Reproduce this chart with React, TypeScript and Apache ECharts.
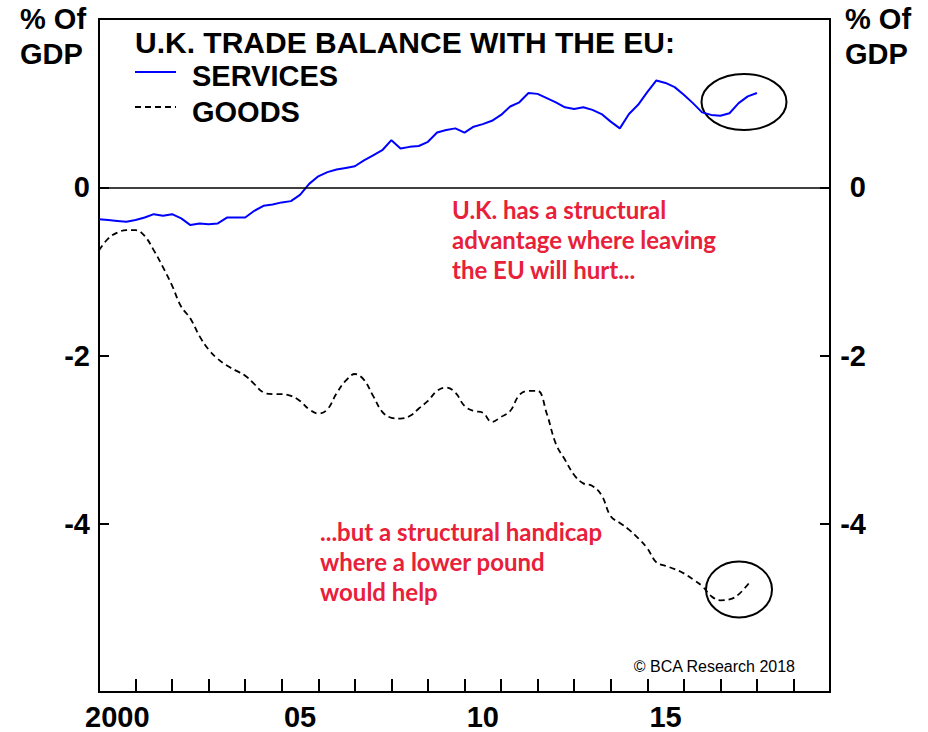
import React, { useEffect, useRef } from "react";
import * as echarts from "echarts";

const yearCategories = [
  "2000", "2001", "2002", "2003", "2004", "2005", "2006", "2007", "2008", "2009",
  "2010", "2011", "2012", "2013", "2014", "2015", "2016", "2017", "2018", "2019",
];

const yLabelValues = [0, -2, -4];

const servicesSeries: [number, number][] = [
  [2000.0, -0.38], [2000.25, -0.39], [2000.5, -0.4], [2000.75, -0.41],
  [2001.0, -0.39], [2001.25, -0.36], [2001.5, -0.32], [2001.75, -0.34],
  [2002.0, -0.32], [2002.25, -0.37], [2002.5, -0.45], [2002.75, -0.43],
  [2003.0, -0.44], [2003.25, -0.43], [2003.5, -0.36], [2003.75, -0.36],
  [2004.0, -0.36], [2004.25, -0.28], [2004.5, -0.22], [2004.75, -0.205],
  [2005.0, -0.18], [2005.25, -0.165], [2005.5, -0.09], [2005.75, 0.04],
  [2006.0, 0.13], [2006.25, 0.18], [2006.5, 0.21], [2006.75, 0.23],
  [2007.0, 0.25], [2007.25, 0.32], [2007.5, 0.38], [2007.75, 0.44],
  [2008.0, 0.56], [2008.25, 0.46], [2008.5, 0.48], [2008.75, 0.49],
  [2009.0, 0.54], [2009.25, 0.65], [2009.5, 0.68], [2009.75, 0.7],
  [2010.0, 0.65], [2010.25, 0.72], [2010.5, 0.75], [2010.75, 0.79],
  [2011.0, 0.86], [2011.25, 0.96], [2011.5, 1.01], [2011.75, 1.12],
  [2012.0, 1.11], [2012.25, 1.06], [2012.5, 1.01], [2012.75, 0.95],
  [2013.0, 0.93], [2013.25, 0.95], [2013.5, 0.92], [2013.75, 0.87],
  [2014.0, 0.78], [2014.25, 0.7], [2014.5, 0.87], [2014.75, 0.98],
  [2015.0, 1.13], [2015.25, 1.27], [2015.5, 1.24], [2015.75, 1.19],
  [2016.0, 1.1], [2016.25, 1.0], [2016.5, 0.89], [2016.75, 0.86],
  [2017.0, 0.85], [2017.25, 0.88], [2017.5, 1.0], [2017.75, 1.08],
  [2018.0, 1.12],
];

const goodsSeries: [number, number][] = [
  [2000.0, -0.75], [2000.25, -0.61], [2000.5, -0.54], [2000.75, -0.51],
  [2001.0, -0.51], [2001.25, -0.58], [2001.5, -0.75], [2001.75, -0.95],
  [2002.0, -1.17], [2002.25, -1.42], [2002.5, -1.56], [2002.75, -1.77],
  [2003.0, -1.93], [2003.25, -2.04], [2003.5, -2.12], [2003.75, -2.18],
  [2004.0, -2.24], [2004.25, -2.34], [2004.5, -2.44], [2004.75, -2.46],
  [2005.0, -2.46], [2005.25, -2.48], [2005.5, -2.54], [2005.75, -2.64],
  [2006.0, -2.69], [2006.25, -2.64], [2006.5, -2.45], [2006.75, -2.3],
  [2007.0, -2.22], [2007.25, -2.29], [2007.5, -2.48], [2007.75, -2.67],
  [2008.0, -2.74], [2008.25, -2.75], [2008.5, -2.72], [2008.75, -2.63],
  [2009.0, -2.54], [2009.25, -2.42], [2009.5, -2.38], [2009.75, -2.44],
  [2010.0, -2.6], [2010.25, -2.66], [2010.5, -2.68], [2010.75, -2.79],
  [2011.0, -2.73], [2011.25, -2.66], [2011.5, -2.47], [2011.75, -2.42],
  [2012.0, -2.42], [2012.25, -2.69], [2012.5, -3.05], [2012.75, -3.24],
  [2013.0, -3.42], [2013.25, -3.52], [2013.5, -3.55], [2013.75, -3.66],
  [2014.0, -3.91], [2014.25, -3.99], [2014.5, -4.07], [2014.75, -4.17],
  [2015.0, -4.29], [2015.25, -4.46], [2015.5, -4.5], [2015.75, -4.54],
  [2016.0, -4.59], [2016.25, -4.66], [2016.5, -4.74], [2016.75, -4.86],
  [2017.0, -4.91], [2017.25, -4.9], [2017.5, -4.84], [2017.83, -4.68],
];

const legendNames = ["SERVICES", "GOODS"];
const annotationTop = ["U.K. has a structural", "advantage where leaving", "the EU will hurt..."];
const annotationBottom = ["...but a structural handicap", "where a lower pound", "would help"];

const BLACK_FONT = "'Liberation Sans', Arial, sans-serif";
const RED = "#e8203a";
const BLUE = "#0000ff";

export default function App() {
  const ref = useRef<HTMLDivElement>(null);

  useEffect(() => {
    if (!ref.current) return;
    const chart = echarts.init(ref.current, null, { renderer: "svg" });

    const boldText = {
      color: "#000",
      fontSize: 29,
      fontWeight: "bold" as const,
      fontFamily: BLACK_FONT,
    };
    const boldFont = "bold 29px 'Liberation Sans', Arial, sans-serif";

    const redLines = (lines: string[], x: number, y0: number) =>
      lines.map((t, i) => ({
        type: "text",
        x,
        y: y0 + i * 30,
        style: {
          text: t,
          fill: RED,
          font: "bold 24px Lato, 'Noto Sans', sans-serif",
          textVerticalAlign: "top",
          textAlign: "left",
        },
      }));

    chart.setOption({
      animation: false,
      backgroundColor: "#fff",
      title: {
        text: "U.K. TRADE BALANCE WITH THE EU:",
        left: 135,
        top: 27,
        padding: 0,
        textStyle: { ...boldText, fontSize: 30 },
      },
      grid: {
        left: 99,
        right: 98,
        top: 19,
        bottom: 40,
        show: true,
        borderColor: "#000",
        borderWidth: 2,
        backgroundColor: "transparent",
      },
      xAxis: [
        {
          type: "category",
          data: yearCategories,
          boundaryGap: true,
          position: "bottom",
          axisLine: { show: true, onZero: false, lineStyle: { color: "#000", width: 2 } },
          axisTick: {
            show: true,
            inside: true,
            length: 13,
            interval: 0,
            alignWithLabel: false,
            lineStyle: { color: "#000", width: 2 },
          },
          axisLabel: {
            ...boldText,
            margin: 10,
            interval: (i: number) => i % 5 === 0,
            formatter: (v: string, i: number) => (i === 0 ? v : v.slice(2)),
          },
          splitLine: { show: false },
        },
        {
          type: "value",
          min: 2000,
          max: 2020,
          show: false,
          position: "bottom",
          axisLine: { onZero: false },
          splitLine: { show: false },
        },
      ],
      yAxis: [
        {
          type: "value",
          min: -6,
          max: 2,
          interval: 2,
          position: "left",
          axisLine: { show: true, onZero: false, lineStyle: { color: "#000", width: 2 } },
          axisTick: { show: true, inside: true, length: 10, lineStyle: { color: "#000", width: 2 } },
          axisLabel: {
            ...boldText,
            margin: 9,
            formatter: (v: number) => (yLabelValues.includes(v) ? String(v) : ""),
          },
          splitLine: { show: false },
        },
        {
          type: "value",
          min: -6,
          max: 2,
          interval: 2,
          position: "right",
          axisLine: { show: true, onZero: false, lineStyle: { color: "#000", width: 2 } },
          axisTick: { show: true, inside: true, length: 10, lineStyle: { color: "#000", width: 2 } },
          axisLabel: {
            ...boldText,
            margin: 36,
            align: "right",
            formatter: (v: number) => (yLabelValues.includes(v) ? String(v) : ""),
          },
          splitLine: { show: false },
        },
      ],
      series: [
        {
          name: legendNames[0],
          type: "line",
          xAxisIndex: 1,
          yAxisIndex: 0,
          data: servicesSeries,
          symbol: "none",
          lineStyle: { color: BLUE, width: 2 },
          itemStyle: { color: BLUE },
          markLine: {
            silent: true,
            symbol: "none",
            label: { show: false },
            lineStyle: { color: "#000", width: 1.5, type: "solid" },
            data: [{ yAxis: 0 }],
          },
        },
        {
          name: legendNames[1],
          type: "line",
          xAxisIndex: 1,
          yAxisIndex: 0,
          data: goodsSeries,
          symbol: "none",
          smooth: 0.4,
          lineStyle: { color: "#000", width: 1.8, type: [6, 4] },
          itemStyle: { color: "#000" },
        },
      ],
      graphic: [
        {
          type: "text",
          x: 20,
          y: 1,
          style: {
            text: "% Of\nGDP",
            fill: "#000",
            font: boldFont,
            lineHeight: 35,
            textAlign: "left",
            textVerticalAlign: "top",
          },
        },
        {
          type: "text",
          x: 845,
          y: 1,
          style: {
            text: "% Of\nGDP",
            fill: "#000",
            font: boldFont,
            lineHeight: 35,
            textAlign: "left",
            textVerticalAlign: "top",
          },
        },
        // legend (manual, to match the reference layout)
        {
          type: "line",
          shape: { x1: 135, y1: 72, x2: 176, y2: 72 },
          style: { stroke: BLUE, lineWidth: 2 },
        },
        {
          type: "text",
          x: 192,
          y: 61,
          style: { text: legendNames[0], fill: "#000", font: boldFont, textVerticalAlign: "top" },
        },
        {
          type: "line",
          shape: { x1: 135, y1: 107, x2: 176, y2: 107 },
          style: { stroke: "#000", lineWidth: 1.8, lineDash: [6, 4] },
        },
        {
          type: "text",
          x: 192,
          y: 97,
          style: { text: legendNames[1], fill: "#000", font: boldFont, textVerticalAlign: "top" },
        },
        ...redLines(annotationTop, 452, 197),
        ...redLines(annotationBottom, 320, 519),
        {
          type: "text",
          x: 795,
          y: 658,
          style: {
            text: "© BCA Research 2018",
            fill: "#000",
            font: "16px 'Liberation Sans', Arial, sans-serif",
            textAlign: "right",
            textVerticalAlign: "top",
          },
        },
        {
          type: "ellipse",
          shape: { cx: 744, cy: 102, rx: 42.5, ry: 28 },
          style: { fill: "none", stroke: "#000", lineWidth: 2 },
        },
        {
          type: "ellipse",
          shape: { cx: 739, cy: 589.5, rx: 33, ry: 28 },
          style: { fill: "none", stroke: "#000", lineWidth: 2 },
        },
      ],
    });

    return () => chart.dispose();
  }, []);

  return (
    <div
      ref={ref}
      style={{ position: "fixed", left: 0, top: 0, width: 928, height: 732, background: "#fff" }}
    />
  );
}
